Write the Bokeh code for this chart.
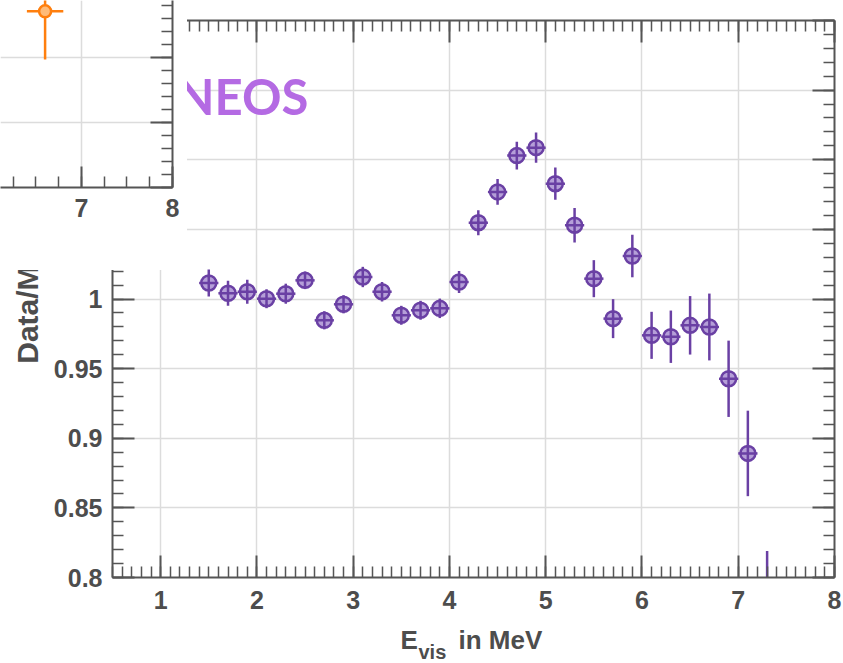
import math
from bokeh.plotting import figure
from bokeh.models import (Range1d, LinearAxis, SingleIntervalTicker, CustomJSTickFormatter,
                          Label, GridBox, Grid, ColumnDataSource)
from bokeh.embed import file_html
from bokeh.resources import INLINE

# ---------------- data (main panel: NEOS data / MC ratio) ----------------
energy = [1.5, 1.7, 1.9, 2.1, 2.3, 2.5, 2.7, 2.9, 3.1, 3.3, 3.5, 3.7, 3.9, 4.1, 4.3,
          4.5, 4.7, 4.9, 5.1, 5.3, 5.5, 5.7, 5.9, 6.1, 6.3, 6.5, 6.7, 6.9, 7.1, 7.3]
ratio = [1.0115, 1.0041, 1.0052, 1.0002, 1.0038, 1.0134, 0.9847, 0.9962, 1.0158, 1.0052,
         0.9883, 0.9919, 0.9933, 1.0122, 1.0548, 1.0769, 1.1030, 1.1087, 1.0828, 1.0530,
         1.0146, 0.9859, 1.0309, 0.9739, 0.9729, 0.9811, 0.9799, 0.9427, 0.8891, 0.7840]
ratio_err = [0.0097, 0.0090, 0.0086, 0.0068, 0.0072, 0.0063, 0.0065, 0.0065, 0.0073, 0.0070,
             0.0068, 0.0068, 0.0070, 0.0079, 0.0090, 0.0093, 0.0100, 0.0108, 0.0116, 0.0124,
             0.0133, 0.0140, 0.0153, 0.0169, 0.0188, 0.0210, 0.0240, 0.0274, 0.0307, 0.0350]
bin_half = 0.1

# ---------------- data (overlapping panel, orange point) ----------------
inset_energy = [6.6]
inset_value = [2.71]
inset_err = [0.74]
inset_half = 0.2

main_title = "NEOS"
x_label_main = "E"
x_label_sub = "vis"
x_label_rest = "in MeV"
y_label = "Data/MC"

AXIS = "#555555"
TEXT = "#4d4d4d"
GRID = "#dcdcdc"
PURPLE = "#6a40a4"
PURPLE_FILL = "#b59fd8"
ORANGE = "#ff7f0e"
ORANGE_FILL = "#ffbb78"
FONT = "Liberation Sans"

fmt = CustomJSTickFormatter(code="return String(Math.round(tick*1000)/1000);")
blank = CustomJSTickFormatter(code="return '';")


def style_axis(ax, labels=True, major_in=22, minor_in=11, standoff=12):
    ax.axis_line_color = AXIS
    ax.axis_line_width = 2
    ax.major_tick_line_color = AXIS
    ax.major_tick_line_width = 2
    ax.minor_tick_line_color = AXIS
    ax.minor_tick_line_width = 1.5
    ax.major_tick_in = major_in
    ax.major_tick_out = 0
    ax.minor_tick_in = minor_in
    ax.minor_tick_out = 0
    if labels:
        ax.major_label_text_font = FONT
        ax.major_label_text_font_style = "bold"
        ax.major_label_text_font_size = "25px"
        ax.major_label_text_color = TEXT
        ax.major_label_standoff = standoff
    else:
        ax.formatter = blank
        ax.major_label_text_font_size = "1px"
        ax.major_label_standoff = 0


def blank_fig(**kw):
    f = figure(x_axis_type=None, y_axis_type=None, output_backend="svg",
               toolbar_location=None, frame_align=False, **kw)
    f.outline_line_color = None
    f.background_fill_color = "white"
    f.border_fill_color = "white"
    return f


# ---------------- main figure ----------------
p = blank_fig(width=843, height=663, x_range=Range1d(0.5, 8), y_range=Range1d(0.8, 1.2000001),
              min_border_left=112, min_border_right=9, min_border_top=20, min_border_bottom=86)

xt = SingleIntervalTicker(interval=1, num_minor_ticks=10)
yt = SingleIntervalTicker(interval=0.05, num_minor_ticks=5)

bx = LinearAxis(ticker=xt, formatter=fmt)
style_axis(bx, standoff=13)
p.add_layout(bx, "below")
ly = LinearAxis(ticker=yt, formatter=fmt)
style_axis(ly, standoff=10)
p.add_layout(ly, "left")
tx = LinearAxis(ticker=xt)
style_axis(tx, labels=False)
p.add_layout(tx, "above")
ry = LinearAxis(ticker=yt)
style_axis(ry, labels=False)
p.add_layout(ry, "right")

p.add_layout(Grid(dimension=0, ticker=xt, grid_line_color=GRID, grid_line_width=1.5))
p.add_layout(Grid(dimension=1, ticker=yt, grid_line_color=GRID, grid_line_width=1.5))

src = ColumnDataSource(dict(
    x=energy, y=ratio,
    lo=[r - e for r, e in zip(ratio, ratio_err)],
    hi=[r + e for r, e in zip(ratio, ratio_err)],
    xl=[x - bin_half for x in energy],
    xr=[x + bin_half for x in energy],
))
p.segment(x0="x", y0="lo", x1="x", y1="hi", source=src, line_color=PURPLE, line_width=2.5)
p.segment(x0="xl", y0="y", x1="xr", y1="y", source=src, line_color=PURPLE, line_width=2.5)
p.scatter(x="x", y="y", source=src, marker="circle_cross", size=15,
          fill_color=PURPLE_FILL, line_color=PURPLE, line_width=2.5)

p.add_layout(Label(x=2.536, y=1.1458, text=main_title, text_align="right",
                   text_baseline="alphabetic", text_font="Lato",
                   text_font_style="bold", text_font_size="49px", text_color="#b46ae3"))

# ---------------- y-axis title strip (left) ----------------
ys = blank_fig(width=48, height=663, x_range=Range1d(0, 48), y_range=p.y_range,
               min_border_left=0, min_border_right=0, min_border_top=20, min_border_bottom=86)
ys.add_layout(Label(x=27, y=0.9535, text=y_label, angle=math.pi / 2, text_align="left",
                    text_baseline="alphabetic", text_font=FONT, text_font_style="bold",
                    text_font_size="30px", text_color=TEXT))

# ---------------- x-axis title strip (E_vis with subscript) ----------------
t = blank_fig(width=843, height=50, x_range=p.x_range, y_range=Range1d(0, 50),
              min_border_left=112, min_border_right=9, min_border_top=0, min_border_bottom=0,
              margin=(613, 0, 0, 0))
t.add_layout(Label(x=3.4916, y=24, text=x_label_main,
                   text_font=FONT, text_font_style="bold", text_font_size="26px",
                   text_color=TEXT, text_baseline="alphabetic"))
t.add_layout(Label(x=3.6786, y=12, text=x_label_sub,
                   text_font=FONT, text_font_style="bold", text_font_size="20px",
                   text_color=TEXT, text_baseline="alphabetic"))
t.add_layout(Label(x=4.0941, y=24, text=x_label_rest,
                   text_font=FONT, text_font_style="bold", text_font_size="26px",
                   text_color=TEXT, text_baseline="alphabetic"))

# ---------------- overlapping panel (top-left) ----------------
q = blank_fig(width=187, height=270, x_range=Range1d(6.11, 8), y_range=Range1d(0, 2.877),
              min_border_left=0, min_border_top=0, min_border_right=15, min_border_bottom=83)

qxt = SingleIntervalTicker(interval=1, num_minor_ticks=4)
qyt = SingleIntervalTicker(interval=1, num_minor_ticks=5)
qb = LinearAxis(ticker=qxt, formatter=fmt)
style_axis(qb, major_in=21, minor_in=11, standoff=11)
q.add_layout(qb, "below")
qr = LinearAxis(ticker=qyt)
style_axis(qr, labels=False)
q.add_layout(qr, "right")
q.add_layout(Grid(dimension=0, ticker=qxt, grid_line_color=GRID, grid_line_width=1.5))
q.add_layout(Grid(dimension=1, ticker=qyt, grid_line_color=GRID, grid_line_width=1.5))

qsrc = ColumnDataSource(dict(
    x=inset_energy, y=inset_value,
    lo=[v - e for v, e in zip(inset_value, inset_err)],
    hi=[v + e for v, e in zip(inset_value, inset_err)],
    xl=[x - inset_half for x in inset_energy],
    xr=[x + inset_half for x in inset_energy],
))
q.segment(x0="x", y0="lo", x1="x", y1="hi", source=qsrc, line_color=ORANGE, line_width=2.5)
q.segment(x0="xl", y0="y", x1="xr", y1="y", source=qsrc, line_color=ORANGE, line_width=2.5)
q.scatter(x="x", y="y", source=qsrc, marker="circle", size=12,
          fill_color=ORANGE_FILL, line_color=ORANGE, line_width=2.5)

layout = GridBox(children=[(p, 0, 0), (ys, 0, 0), (t, 0, 0), (q, 0, 0)], spacing=0)

with open("out.html", "w") as f:
    f.write(file_html(layout, INLINE))
